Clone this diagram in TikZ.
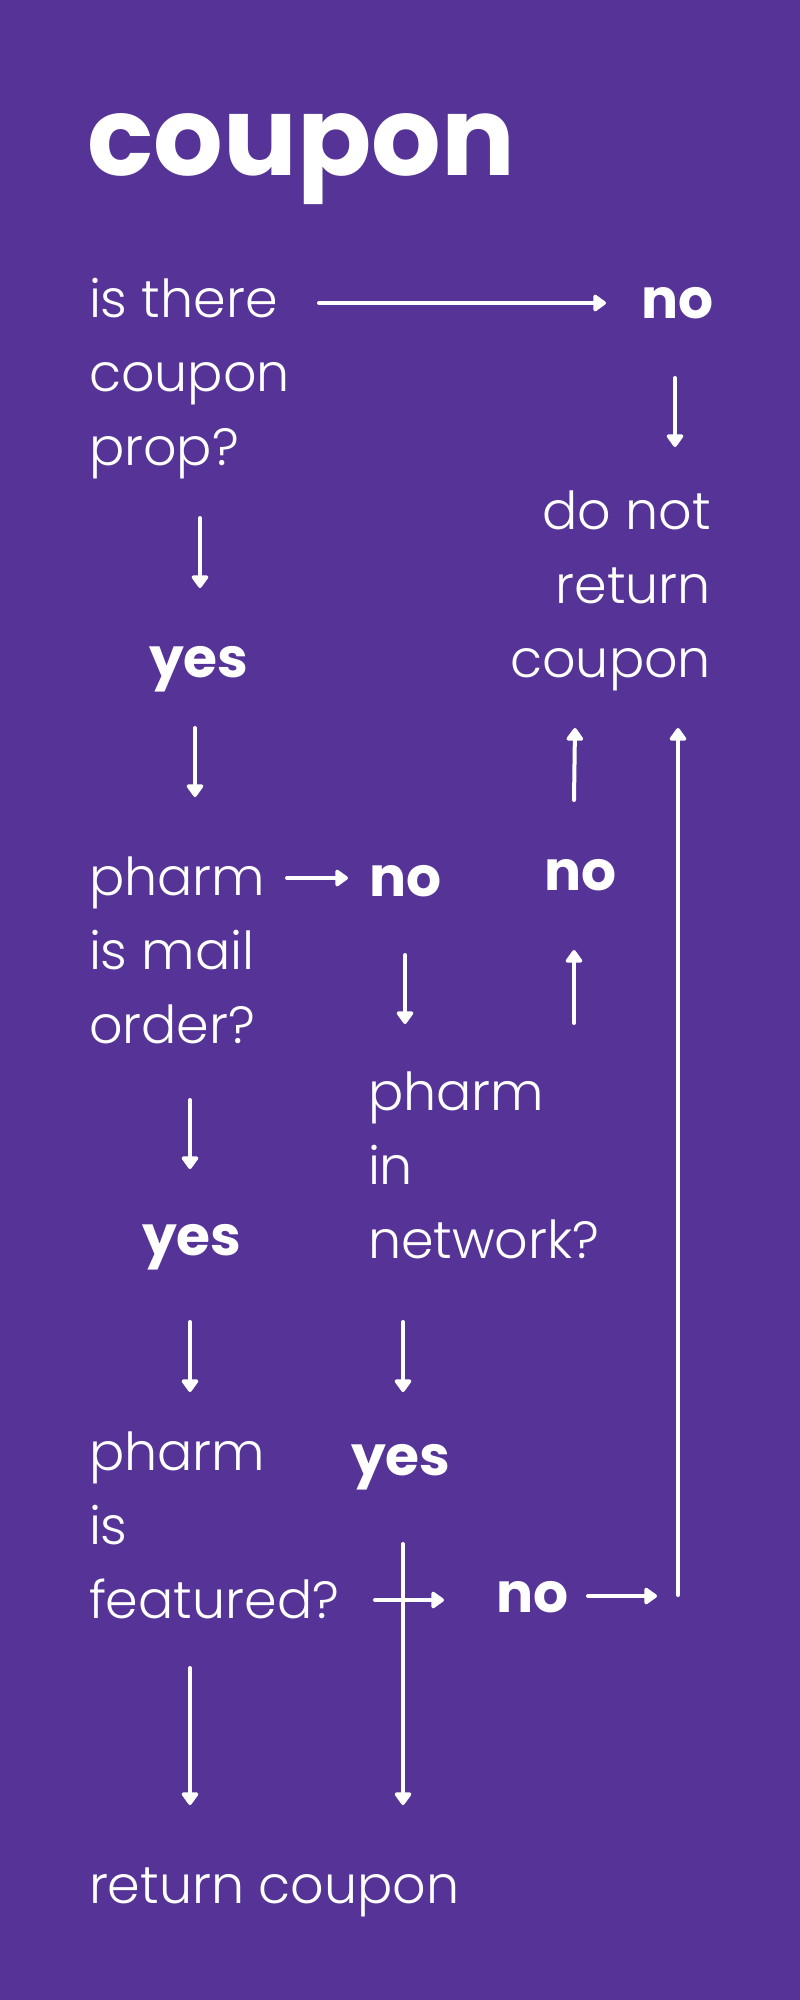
\documentclass[tikz,border=0pt]{standalone}
\usepackage{fontspec}
\setmainfont{Poppins}
\newfontfamily\lightf{Poppins Light}
\usetikzlibrary{arrows.meta}
\definecolor{bg}{RGB}{86,52,151}
\begin{document}
\begin{tikzpicture}[x=1pt,y=-1pt,
  txt/.style={text=white, inner sep=0pt, outer sep=0pt, anchor=base west, align=left, font=\lightf\fontsize{52.3}{74}\selectfont},
  txtr/.style={txt, anchor=base east, align=right},
  bold/.style={text=white, inner sep=0pt, outer sep=0pt, anchor=base west, font=\bfseries\fontsize{55}{74}\selectfont},
  arr/.style={draw=white, line width=4pt, line cap=round, -{Triangle[length=14pt,width=19pt,round]}},
  plain/.style={draw=white, line width=4pt, line cap=round}]
\fill[bg] (0,0) rectangle (800,2000);
\useasboundingbox (0,0) rectangle (800,2000);
% texts (multi-line nodes are placed by the baseline of their last line)
\node[text=white, inner sep=0pt, anchor=base west, font=\bfseries\fontsize{109.5}{109.5}\selectfont] (title) at (87,175) {coupon};
\node[txt] (q1) at (89,465) {is there\\coupon\\prop?};
\node[bold] (no1) at (641,318) {no};
\node[txtr] (dnr) at (711,677) {do not\\return\\coupon};
\node[bold] (yes1) at (149,677) {yes};
\node[txt] (q2) at (89,1043) {pharm\\is mail\\order?};
\node[bold] (no2) at (369,896) {no};
\node[bold] (no3) at (544,890) {no};
\node[txt] (q3) at (368,1258) {pharm\\in\\network?};
\node[bold] (yes2) at (142,1255) {yes};
\node[bold] (yes3) at (351,1475) {yes};
\node[txt] (q4) at (89,1618) {pharm\\is\\featured?};
\node[bold] (no4) at (496,1612) {no};
\node[txt] (ret) at (89,1903) {return coupon};
% coordinates
\coordinate (a1s) at (319,303); \coordinate (a1e) at (606,303);
\coordinate (a2s) at (675,378); \coordinate (a2e) at (675,447);
\coordinate (a3s) at (200,518); \coordinate (a3e) at (200,588);
\coordinate (a4s) at (195,728); \coordinate (a4e) at (195,797);
\coordinate (a5s) at (287,878); \coordinate (a5e) at (348,878);
\coordinate (a6s) at (574,800); \coordinate (a6e) at (575,728);
\coordinate (a7s) at (678,1595); \coordinate (a7e) at (678,728);
\coordinate (a8s) at (574,1023); \coordinate (a8e) at (574,950);
\coordinate (a9s) at (405,955); \coordinate (a9e) at (405,1024);
\coordinate (a10s) at (190,1100); \coordinate (a10e) at (190,1169);
\coordinate (a11s) at (190,1322); \coordinate (a11e) at (190,1392);
\coordinate (a12s) at (403,1322); \coordinate (a12e) at (403,1392);
\coordinate (a13s) at (403,1544); \coordinate (a13e) at (403,1805);
\coordinate (a14s) at (375,1600); \coordinate (a14e) at (444,1600);
\coordinate (a15s) at (588,1596); \coordinate (a15e) at (657,1596);
\coordinate (a16s) at (190,1668); \coordinate (a16e) at (190,1805);
% connectors
\draw[arr] (a1s) -- (a1e);
\draw[arr] (a2s) -- (a2e);
\draw[arr] (a3s) -- (a3e);
\draw[arr] (a4s) -- (a4e);
\draw[arr] (a5s) -- (a5e);
\draw[arr] (a6s) -- (a6e);
\draw[arr] (a7s) -- (a7e);
\draw[arr] (a8s) -- (a8e);
\draw[arr] (a9s) -- (a9e);
\draw[arr] (a10s) -- (a10e);
\draw[arr] (a11s) -- (a11e);
\draw[arr] (a12s) -- (a12e);
\draw[arr] (a13s) -- (a13e);
\draw[arr] (a14s) -- (a14e);
\draw[arr] (a15s) -- (a15e);
\draw[arr] (a16s) -- (a16e);
\end{tikzpicture}
\end{document}
